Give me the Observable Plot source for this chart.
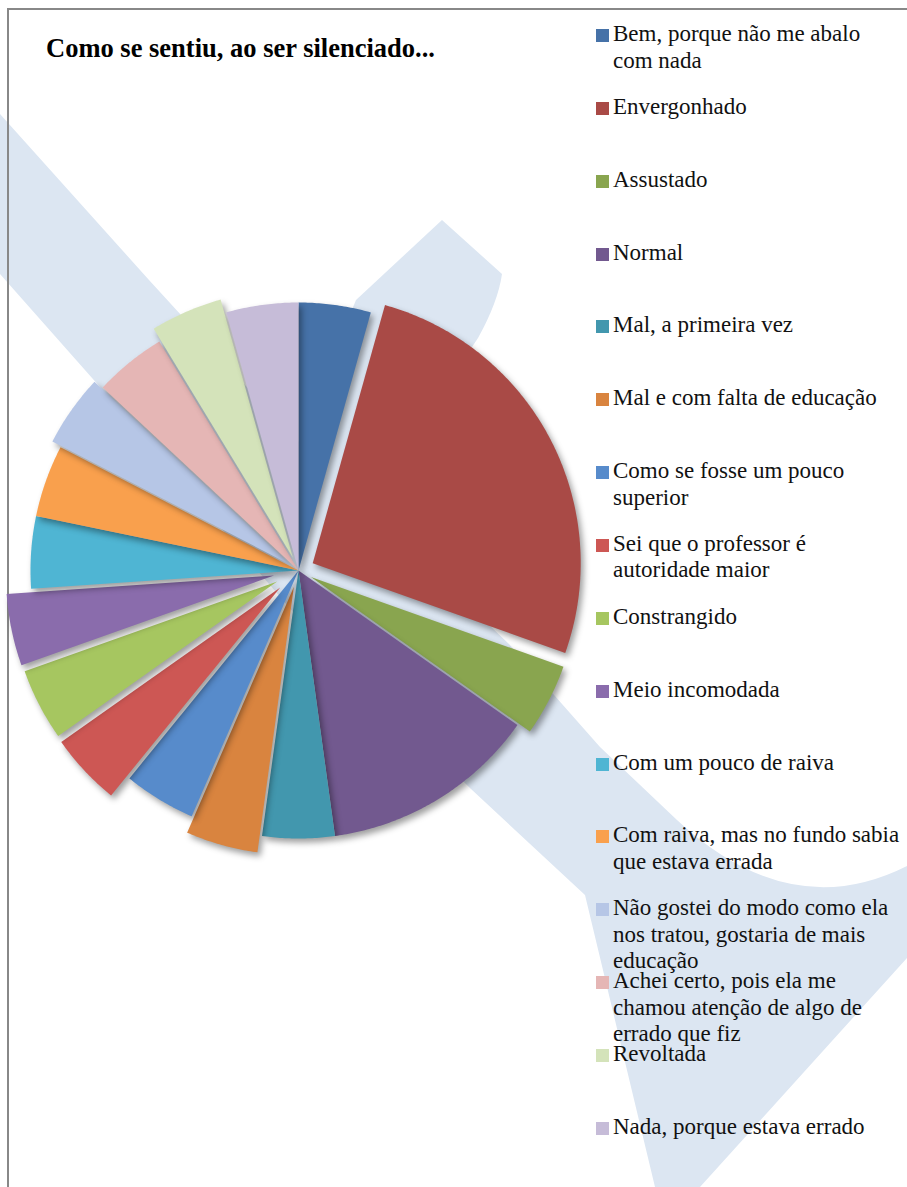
<!DOCTYPE html>
<html><head><meta charset="utf-8">
<script src="https://cdn.jsdelivr.net/npm/d3@7"></script>
<script src="https://cdn.jsdelivr.net/npm/@observablehq/plot@0.6"></script>
<style>
html,body{margin:0;padding:0;background:#fff;}
#page{position:relative;width:907px;height:1187px;overflow:hidden;background:#fff;}
#wm{position:absolute;left:0;top:0;}
#frame{position:absolute;left:7px;top:8px;width:960px;height:1260px;border-top:2px solid #888;border-left:2px solid #888;}
#chart{position:absolute;left:0;top:0;}
#chart svg path{filter:drop-shadow(3px 4px 3px rgba(0,0,0,0.38));}
#title{position:absolute;left:46px;top:33px;font:bold 26.5px/30px "Liberation Serif","Times New Roman",serif;color:#000;white-space:nowrap;}
.lt{position:absolute;left:613px;width:290px;font:23px/26.5px "Liberation Serif","Times New Roman",serif;color:#111;}
.lm{position:absolute;left:596px;width:13px;height:13px;}
</style></head>
<body>
<div id="page">
<svg id="wm" width="907" height="1187">
<g fill="#DCE6F2">
<path d="M0,114 L149,280 L300,445 L509,644 L600,747 L677,820 Q790,925 907,866 L907,958 L700,1187 L655,1187 L585,895 L471,789 L300,620 L100,387 L0,274 Z"/>
<path d="M442,220 L502,274 Q498,302 478,338 L330,560 L250,560 L356,300 Z"/>
</g>
</svg>
<div id="frame"></div>
<div id="chart"></div>
<div id="title">Como se sentiu, ao ser silenciado...</div>
<div id="legend"></div>
</div>
<script>
const categories = [
  "Bem, porque não me abalo com nada",
  "Envergonhado",
  "Assustado",
  "Normal",
  "Mal, a primeira vez",
  "Mal e com falta de educação",
  "Como se fosse um pouco superior",
  "Sei que o professor é autoridade maior",
  "Constrangido",
  "Meio incomodada",
  "Com um pouco de raiva",
  "Com raiva, mas no fundo sabia que estava errada",
  "Não gostei do modo como ela nos tratou, gostaria de mais educação",
  "Achei certo, pois ela me chamou atenção de algo de errado que fiz",
  "Revoltada",
  "Nada, porque estava errado"
];
const counts = [1, 6, 1, 3, 1, 1, 1, 1, 1, 1, 1, 1, 1, 1, 1, 1];
const colors = ["#4672A8","#A94A46","#89A54F","#72598F","#4297AE","#D9843F","#578BCB","#CD5754",
                "#A6C660","#8A6CAC","#4FB5D3","#F9A04D","#B6C6E6","#E5B6B5","#D4E3BA","#C6BCD8"];
const explodePx = [0, 16, 14, 0, 0, 17, 0, 25, 24, 25, 0, 0, 10, 0, 14, 0];

const W = 907, H = 1187, R = 268, CX = 298, CY = 570;

const arcs = d3.pie().sort(null).value(d => d)(counts);
const pts = [];
arcs.forEach((a, i) => {
  const cat = categories[i];
  const mid = (a.startAngle + a.endAngle) / 2;
  const e = explodePx[i] / R;
  const ox = e * Math.sin(mid), oy = e * Math.cos(mid);
  pts.push({cat, x: ox, y: oy});
  const n = Math.max(4, Math.ceil((a.endAngle - a.startAngle) / (Math.PI / 360)));
  for (let k = 0; k <= n; k++) {
    const t = a.startAngle + (a.endAngle - a.startAngle) * k / n;
    pts.push({cat, x: ox + Math.sin(t), y: oy + Math.cos(t)});
  }
  pts.push({cat, x: ox, y: oy});
});

const chart = Plot.plot({
  width: W, height: H, margin: 0,
  style: {background: "transparent", overflow: "visible"},
  x: {domain: [-CX / R, (W - CX) / R], axis: null},
  y: {domain: [-(H - CY) / R, CY / R], axis: null},
  color: {domain: categories, range: colors},
  marks: [
    Plot.line(pts, {x: "x", y: "y", z: "cat", fill: "cat", stroke: "none", curve: "linear"})
  ]
});
document.getElementById("chart").appendChild(chart);

const legend = d3.select("#legend");
categories.forEach((c, i) => {
  const base = 42 + 72.85 * i;
  legend.append("div").attr("class", "lm")
    .style("top", (base - 13) + "px").style("background", colors[i]);
  legend.append("div").attr("class", "lt")
    .style("top", (base - 21) + "px").text(c);
});
</script>
</body></html>
